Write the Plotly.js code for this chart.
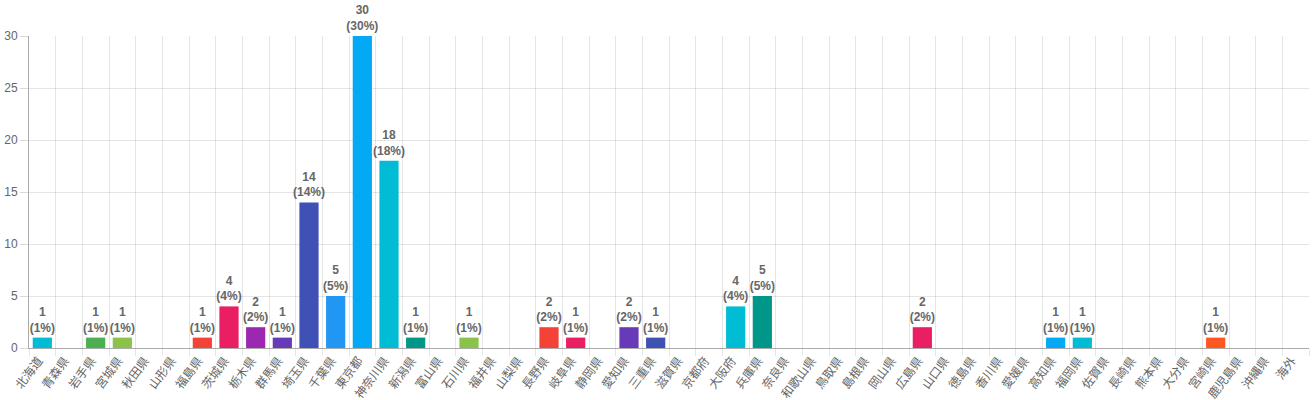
<!DOCTYPE html>
<html>
<head>
<meta charset="utf-8">
<script src="https://cdn.plot.ly/plotly-3.0.1.min.js"></script>
<style>html,body{margin:0;padding:0;background:#fff;}#chart{width:1312px;height:400px;}</style>
</head>
<body>
<div id="chart"></div>
<script>
const categories = ['北海道','青森県','岩手県','宮城県','秋田県','山形県','福島県','茨城県','栃木県','群馬県','埼玉県','千葉県','東京都','神奈川県','新潟県','富山県','石川県','福井県','山梨県','長野県','岐阜県','静岡県','愛知県','三重県','滋賀県','京都府','大阪府','兵庫県','奈良県','和歌山県','鳥取県','島根県','岡山県','広島県','山口県','徳島県','香川県','愛媛県','高知県','福岡県','佐賀県','長崎県','熊本県','大分県','宮崎県','鹿児島県','沖縄県','海外'];
const counts = [1,0,1,1,0,0,1,4,2,1,14,5,30,18,1,0,1,0,0,2,1,0,2,1,0,0,4,5,0,0,0,0,0,2,0,0,0,0,1,1,0,0,0,0,1,0,0,0];
const yTicks = [0,5,10,15,20,25,30];
const palette = ['#00BCD4','#009688','#4CAF50','#8BC34A','#FF9800','#FF5722','#F44336','#E91E63','#9C27B0','#673AB7','#3F51B5','#2196F3','#03A9F4'];

const total = counts.reduce((a,b)=>a+b,0);
const labels = counts.map(v => v > 0 ? `<b>${v}</b><br><b>(${Math.round(v/total*100)}%)</b>` : '');
const colors = categories.map((c,i) => palette[i % palette.length]);

const font = 'Liberation Sans, Arial, Noto Sans CJK JP, sans-serif';

Plotly.newPlot('chart', [{
  type: 'bar',
  x: categories,
  y: counts,
  text: labels,
  textposition: 'outside',
  textfont: {family: font, size: 12, color: '#666'},
  constraintext: 'none',
  cliponaxis: false,
  marker: {color: colors},
  hoverinfo: 'x+y'
}], {
  width: 1312, height: 400,
  margin: {l: 29, r: 3, t: 36, b: 52},
  paper_bgcolor: '#fff', plot_bgcolor: '#fff',
  bargap: 0.28,
  showlegend: false,
  font: {family: font, color: '#666', size: 12},
  xaxis: {
    type: 'category',
    tickson: 'boundaries',
    showgrid: true, gridcolor: 'rgba(0,0,0,0.1)', gridwidth: 1,
    ticks: 'outside', ticklen: 7, tickcolor: 'rgba(0,0,0,0.1)',
    tickangle: -53,
    ticklabelshift: -4,
    tickfont: {family: font, size: 12, color: '#666'},
    showline: true, linecolor: '#aaa', linewidth: 1,
    fixedrange: true
  },
  yaxis: {
    range: [0, 30],
    tickvals: yTicks,
    ticktext: yTicks.map(String),
    showgrid: true, gridcolor: 'rgba(0,0,0,0.1)', gridwidth: 1,
    zeroline: false,
    ticks: 'outside', ticklen: 8, tickcolor: 'rgba(0,0,0,0.15)',
    tickfont: {family: font, size: 12, color: '#666'},
    showline: true, linecolor: '#aaa', linewidth: 1,
    fixedrange: true
  }
}, {displayModeBar: false, staticPlot: true});
</script>
</body>
</html>
